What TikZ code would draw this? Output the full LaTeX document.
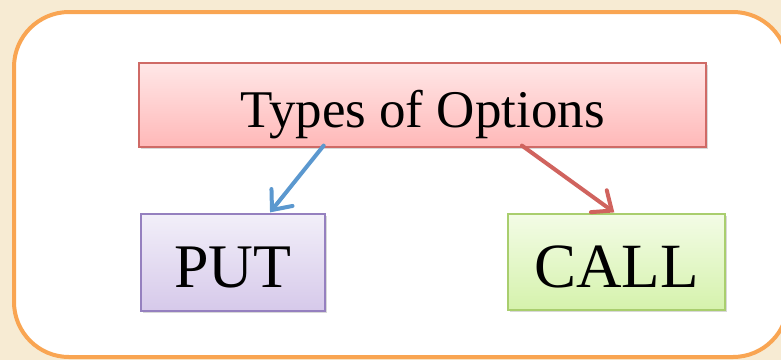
\documentclass[tikz,border=0pt]{standalone}
\usepackage{fontspec}
\setmainfont{Liberation Serif}
\usetikzlibrary{calc,shadows,arrows.meta}
\definecolor{parch}{HTML}{F7EBD3}
\definecolor{frame}{HTML}{F9A552}
\definecolor{redline}{HTML}{CF6A66}
\definecolor{redtop}{HTML}{FFE7E7}
\definecolor{redbottom}{HTML}{FFB8B8}
\definecolor{purpleline}{HTML}{9580BF}
\definecolor{purpletop}{HTML}{F2EFF9}
\definecolor{purplebottom}{HTML}{D6C9EA}
\definecolor{greenline}{HTML}{A9CE6E}
\definecolor{greentop}{HTML}{F3FCE6}
\definecolor{greenbottom}{HTML}{D5F2AC}
\definecolor{bluearrow}{HTML}{5B98CF}
\definecolor{redarrow}{HTML}{D0635E}

\begin{document}
\begin{tikzpicture}[x=1pt,y=-1pt]
    \tikzstyle{box}=[draw,line width=1.2pt,inner sep=0pt,text depth=0pt,drop shadow={shadow xshift=2pt,shadow yshift=-2pt,opacity=0.3}]
    \tikzstyle{title box}=[box,draw=redline,top color=redtop,bottom color=redbottom,minimum width=567pt,minimum height=84pt,text height=44pt,font=\fontsize{53}{60}\selectfont]
    \tikzstyle{put box}=[box,draw=purpleline,top color=purpletop,bottom color=purplebottom,minimum width=184pt,minimum height=97pt,text height=49pt,font=\fontsize{62}{70}\selectfont]
    \tikzstyle{call box}=[box,draw=greenline,top color=greentop,bottom color=greenbottom,minimum width=217pt,minimum height=96pt,text height=50pt,font=\fontsize{63}{70}\selectfont]
    \tikzstyle{link}=[line width=4pt,line cap=round,-{Straight Barb[length=16pt,width=27pt,line cap=round]}]

    \useasboundingbox (0,0) rectangle (781,360);
    \clip (0,0) rectangle (781,360);
    \fill[parch] (0,0) rectangle (781,360);
    \draw[frame,line width=4pt,rounded corners=55pt,fill=white] (14,12) rectangle (788,357);

    \node(types)[title box] at (422.5,105) {Types of Options};
    \node(put)[put box] at (233,262.5) {PUT};
    \node(call)[call box] at (616.5,262) {CALL};

    \draw[link,bluearrow] ($(types.south west)!0.326!(types.south east)+(0,-2)$) -- ($(put.north west)!0.7!(put.north east)+(0,-1)$);
    \draw[link,redarrow] ($(types.south west)!0.675!(types.south east)+(0,-2)$) -- ($(call.north west)!0.49!(call.north east)+(0,-1)$);
\end{tikzpicture}
\end{document}
